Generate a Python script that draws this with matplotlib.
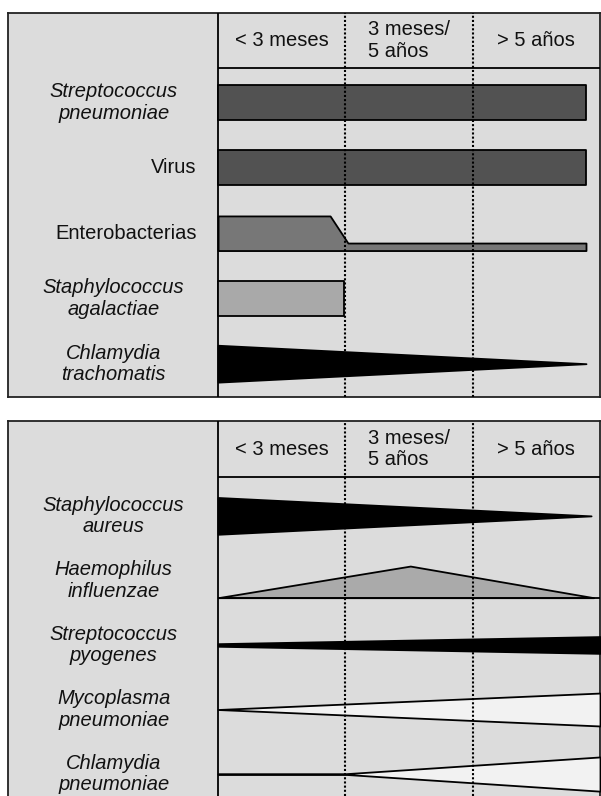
import numpy as np
import matplotlib.pyplot as plt

plt.rcParams['font.family'] = ['Liberation Sans', 'DejaVu Sans']

# age columns (x axis: 0 = birth, 1 = 3 meses, 2 = 5 años, 3 = right edge)
age_groups = ['< 3 meses', '3 meses/\n5 años', '> 5 años']

# ---- panel 1 ----
top_labels = ['Streptococcus\npneumoniae', 'Virus', 'Enterobacterias',
              'Staphylococcus\nagalactiae', 'Chlamydia\ntrachomatis']
top_italic = [True, False, False, True, True]
top_x = [[0, 2.89], [0, 2.89], [0, 0.88, 1.02, 2.89], [0, 0.99], [0, 2.89]]
top_thick = [[0.53, 0.53], [0.53, 0.53], [0.53, 0.53, 0.115, 0.115],
             [0.53, 0.53], [0.565, 0.0]]
top_align = ['center', 'center', 'bottom', 'center', 'center']
top_colors = ['#525252', '#525252', '#777777', '#a9a9a9', 'black']

# ---- panel 2 ----
bot_labels = ['Staphylococcus\naureus', 'Haemophilus\ninfluenzae',
              'Streptococcus\npyogenes', 'Mycoplasma\npneumoniae',
              'Chlamydia\npneumoniae']
bot_italic = [True, True, True, True, True]
bot_x = [[0, 2.93], [0, 1.51, 2.95], [0, 3.0], [0, 3.0], [0, 0.96, 3.0]]
bot_thick = [[0.57, 0.0], [0.0, 0.49, 0.0], [0.04, 0.26], [0.0, 0.51],
             [0.0, 0.0, 0.53]]
bot_align = ['center', 'bottom', 'center', 'center', 'center']
bot_colors = ['black', '#aaaaaa', 'black', '#f2f2f2', '#f2f2f2']

W, H = 601, 796
fig = plt.figure(figsize=(W / 100, H / 100), dpi=100)
fig.patch.set_facecolor('white')

XMIN, XMAX = -1.65, 3.0
BG = '#dcdcdc'
FS = 14.5


def draw_panel(rect, ylim, header_y, labels, italic, xs, thick, align, colors,
               baseline=None, closed=True):
    ax = fig.add_axes(rect)
    ax.set_facecolor(BG)
    ax.set_xlim(XMIN, XMAX)
    ax.set_ylim(*ylim)
    ax.set_xticks([])
    ax.set_yticks([])
    for s in ax.spines.values():
        s.set_linewidth(1.3)
        s.set_color('#222222')
    if not closed:
        ax.spines['bottom'].set_visible(False)

    # grid of the table
    ax.axvline(0, color='black', lw=1.3, zorder=3)
    ax.hlines(header_y, 0, XMAX, color='black', lw=1.3, zorder=3)
    for xv in [1, 2]:
        ax.axvline(xv, color='black', lw=1.5, linestyle=(0, (1, 1)), zorder=6)

    # header text
    for i, g in enumerate(age_groups):
        ax.text(i + 0.5, (ylim[1] + header_y) / 2, g, ha='center', va='center',
                fontsize=FS, multialignment='left', linespacing=1.15,
                color='#111111')

    for i in range(len(labels)):
        x = np.array(xs[i], dtype=float)
        t = np.array(thick[i], dtype=float)
        if align[i] == 'center':
            upper = i - t / 2
            lower = i + t / 2
        else:
            lower = np.full_like(t, i + 0.535 / 2)
            upper = lower - t
        ax.fill_between(x, lower, upper, facecolor=colors[i], edgecolor='black',
                        linewidth=1.3, zorder=4)
        if baseline is not None and baseline[i]:
            ax.hlines(lower[0], 0, XMAX, color='black', lw=1.3, zorder=4)

        if italic[i]:
            ax.text(-0.82, i, labels[i], ha='center', va='center', fontsize=FS,
                    style='italic', linespacing=1.15, color='#111111')
        else:
            ax.text(-0.17, i, labels[i], ha='right', va='center', fontsize=FS,
                    linespacing=1.15, color='#111111')
    return ax


# pixel layout of the two boxes
left = 8 / W
width = 592 / W

draw_panel([left, 1 - 397 / H, width, (397 - 13) / H],
           (4.51, -1.37), -0.525,
           top_labels, top_italic, top_x, top_thick, top_align, top_colors)

draw_panel([left, 0, width, (796 - 421) / H],
           (4.34, -1.47), -0.60,
           bot_labels, bot_italic, bot_x, bot_thick, bot_align, bot_colors,
           baseline=[False, True, False, False, False], closed=False)

plt.savefig('out.png', dpi=100, facecolor='white')
plt.close()
